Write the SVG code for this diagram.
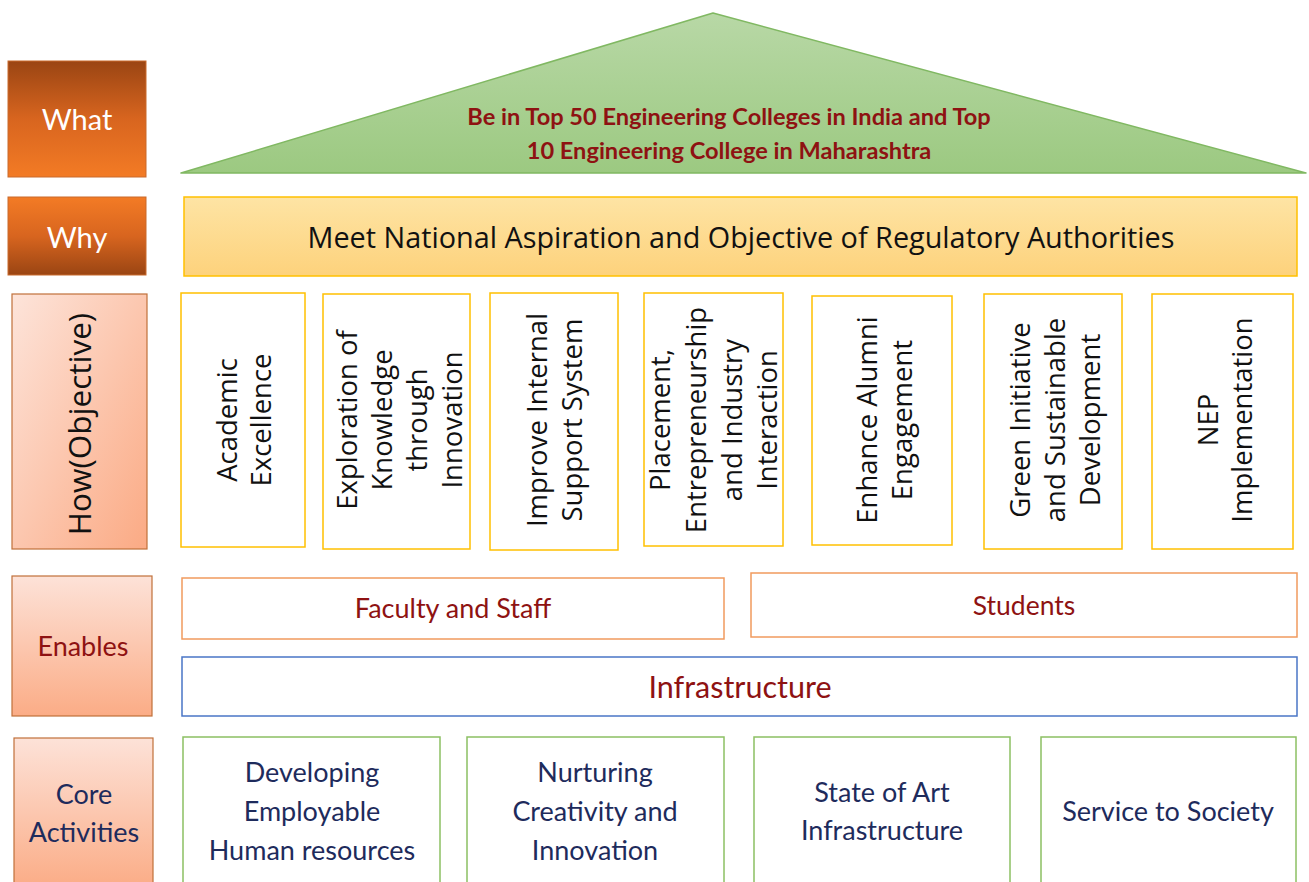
<svg xmlns="http://www.w3.org/2000/svg" width="1309" height="882" viewBox="0 0 1309 882">
  <defs>
    <linearGradient id="gWhat" x1="0" y1="0" x2="0" y2="1">
      <stop offset="0" stop-color="#9a4513"/>
      <stop offset="0.5" stop-color="#d8651f"/>
      <stop offset="1" stop-color="#f37b25"/>
    </linearGradient>
    <linearGradient id="gWhy" x1="0" y1="0" x2="0" y2="1">
      <stop offset="0" stop-color="#f37b25"/>
      <stop offset="0.5" stop-color="#d8651f"/>
      <stop offset="1" stop-color="#9a4513"/>
    </linearGradient>
    <linearGradient id="gHow" x1="0" y1="0" x2="1" y2="1">
      <stop offset="0" stop-color="#fde4da"/>
      <stop offset="1" stop-color="#fbaa84"/>
    </linearGradient>
    <linearGradient id="gPeach" x1="0" y1="0" x2="0" y2="1">
      <stop offset="0" stop-color="#fde2d8"/>
      <stop offset="1" stop-color="#fbac86"/>
    </linearGradient>
    <linearGradient id="gRoof" x1="0" y1="0" x2="0" y2="1">
      <stop offset="0" stop-color="#b8d8a6"/>
      <stop offset="1" stop-color="#9cc981"/>
    </linearGradient>
    <linearGradient id="gBanner" x1="0" y1="0" x2="0" y2="1">
      <stop offset="0" stop-color="#fee4a4"/>
      <stop offset="1" stop-color="#fdd27c"/>
    </linearGradient>
  </defs>
  <style>
    .lbl { font-family: Lato, "Liberation Sans", sans-serif; text-anchor: middle; }
    .vt { font-family: "Open Sans", "DejaVu Sans", sans-serif; font-size: 27.5px; text-anchor: middle; fill: #111; }
    .obj { fill: #fff; stroke: #ffc000; stroke-width: 1.5; }
    .en { fill: #fff; stroke: #f19a5e; stroke-width: 1.5; }
    .core { fill: #fff; stroke: #8cc063; stroke-width: 1.5; }
    .red { fill: #8e1212; }
    .navy { fill: #1e2b5c; font-size: 27px; }
  </style>

  <!-- row labels -->
  <g id="label-what">
    <rect x="8" y="61" width="138" height="116" fill="url(#gWhat)" stroke="#c96a2c" stroke-width="1"/>
    <text class="lbl" x="77" y="130" font-size="29" fill="#fff">What</text>
  </g>
  <g id="label-why">
    <rect x="8" y="197" width="138" height="78" fill="url(#gWhy)" stroke="#c96a2c" stroke-width="1"/>
    <text class="lbl" x="77" y="248" font-size="29" fill="#fff">Why</text>
  </g>
  <g id="label-how">
    <rect x="12" y="294" width="135" height="255" fill="url(#gHow)" stroke="#c0703a" stroke-width="1.2"/>
    <text transform="translate(91 424) rotate(-90)" font-family="'Open Sans', 'DejaVu Sans', sans-serif" font-size="31.5" text-anchor="middle" fill="#111">How(Objective)</text>
  </g>
  <g id="label-enables">
    <rect x="12" y="576" width="140" height="140" fill="url(#gPeach)" stroke="#c0703a" stroke-width="1.2"/>
    <text class="lbl red" x="83" y="656" font-size="27">Enables</text>
  </g>
  <g id="label-core">
    <rect x="14" y="738" width="139" height="150" fill="url(#gPeach)" stroke="#c0703a" stroke-width="1.2"/>
    <text class="lbl" x="84" y="804" font-size="27" fill="#1e2b5c">Core</text>
    <text class="lbl" x="84" y="842" font-size="27" fill="#1e2b5c">Activities</text>
  </g>

  <!-- vision roof -->
  <g id="vision">
    <polygon points="713,13 181,173 1306,173" fill="url(#gRoof)" stroke="#80b862" stroke-width="1.5" stroke-linejoin="round"/>
    <text class="lbl red" x="729" y="125" font-size="23.6" font-weight="bold">Be in Top 50 Engineering Colleges in India and Top</text>
    <text class="lbl red" x="729" y="159" font-size="23.6" font-weight="bold">10 Engineering College in Maharashtra</text>
  </g>

  <!-- mission banner -->
  <g id="mission">
    <rect x="184" y="197" width="1113" height="79" fill="url(#gBanner)" stroke="#ffc000" stroke-width="1.5"/>
    <text x="741" y="248" font-family="'Open Sans', 'DejaVu Sans', sans-serif" font-size="28.8" text-anchor="middle" fill="#111">Meet National Aspiration and Objective of Regulatory Authorities</text>
  </g>

  <!-- objectives -->
  <g id="obj-1">
    <rect class="obj" x="181" y="293" width="124" height="254"/>
    <text class="vt" transform="translate(237 420) rotate(-90)">Academic</text>
    <text class="vt" transform="translate(271 420) rotate(-90)">Excellence</text>
  </g>
  <g id="obj-2">
    <rect class="obj" x="323" y="294" width="147" height="255"/>
    <text class="vt" transform="translate(357 420) rotate(-90)">Exploration of</text>
    <text class="vt" transform="translate(392 420) rotate(-90)">Knowledge</text>
    <text class="vt" transform="translate(427 420) rotate(-90)">through</text>
    <text class="vt" transform="translate(462 420) rotate(-90)">Innovation</text>
  </g>
  <g id="obj-3">
    <rect class="obj" x="490" y="293" width="128" height="257"/>
    <text class="vt" transform="translate(547 420) rotate(-90)">Improve Internal</text>
    <text class="vt" transform="translate(582 420) rotate(-90)">Support System</text>
  </g>
  <g id="obj-4">
    <rect class="obj" x="644" y="293" width="139" height="253"/>
    <text class="vt" transform="translate(670 420) rotate(-90)">Placement,</text>
    <text class="vt" transform="translate(706 420) rotate(-90)">Entrepreneurship</text>
    <text class="vt" transform="translate(742 420) rotate(-90)">and Industry</text>
    <text class="vt" transform="translate(777 420) rotate(-90)">Interaction</text>
  </g>
  <g id="obj-5">
    <rect class="obj" x="812" y="296" width="140" height="249"/>
    <text class="vt" transform="translate(877 420) rotate(-90)">Enhance Alumni</text>
    <text class="vt" transform="translate(912 420) rotate(-90)">Engagement</text>
  </g>
  <g id="obj-6">
    <rect class="obj" x="984" y="294" width="138" height="255"/>
    <text class="vt" transform="translate(1030 420) rotate(-90)">Green Initiative</text>
    <text class="vt" transform="translate(1065 420) rotate(-90)">and Sustainable</text>
    <text class="vt" transform="translate(1100 420) rotate(-90)">Development</text>
  </g>
  <g id="obj-7">
    <rect class="obj" x="1152" y="294" width="141" height="255"/>
    <text class="vt" transform="translate(1218 420) rotate(-90)">NEP</text>
    <text class="vt" transform="translate(1252 420) rotate(-90)">Implementation</text>
  </g>

  <!-- enablers -->
  <g id="enable-faculty">
    <rect class="en" x="182" y="578" width="542" height="61"/>
    <text class="lbl red" x="453" y="618" font-size="27">Faculty and Staff</text>
  </g>
  <g id="enable-students">
    <rect class="en" x="751" y="573" width="546" height="64"/>
    <text class="lbl red" x="1024" y="615" font-size="26.5">Students</text>
  </g>
  <g id="enable-infra">
    <rect x="182" y="657" width="1115" height="59" fill="#fff" stroke="#4a76c6" stroke-width="1.5"/>
    <text class="lbl red" x="740" y="698" font-size="30.5">Infrastructure</text>
  </g>

  <!-- core activities -->
  <g id="core-1">
    <rect class="core" x="183" y="737" width="257" height="150"/>
    <text class="lbl navy" x="312" y="782">Developing</text>
    <text class="lbl navy" x="312" y="821">Employable</text>
    <text class="lbl navy" x="312" y="860">Human resources</text>
  </g>
  <g id="core-2">
    <rect class="core" x="467" y="737" width="257" height="150"/>
    <text class="lbl navy" x="595" y="782">Nurturing</text>
    <text class="lbl navy" x="595" y="821">Creativity and</text>
    <text class="lbl navy" x="595" y="860">Innovation</text>
  </g>
  <g id="core-3">
    <rect class="core" x="754" y="737" width="256" height="150"/>
    <text class="lbl navy" x="882" y="802">State of Art</text>
    <text class="lbl navy" x="882" y="840">Infrastructure</text>
  </g>
  <g id="core-4">
    <rect class="core" x="1041" y="737" width="255" height="150"/>
    <text class="lbl navy" x="1168" y="821">Service to Society</text>
  </g>
</svg>
